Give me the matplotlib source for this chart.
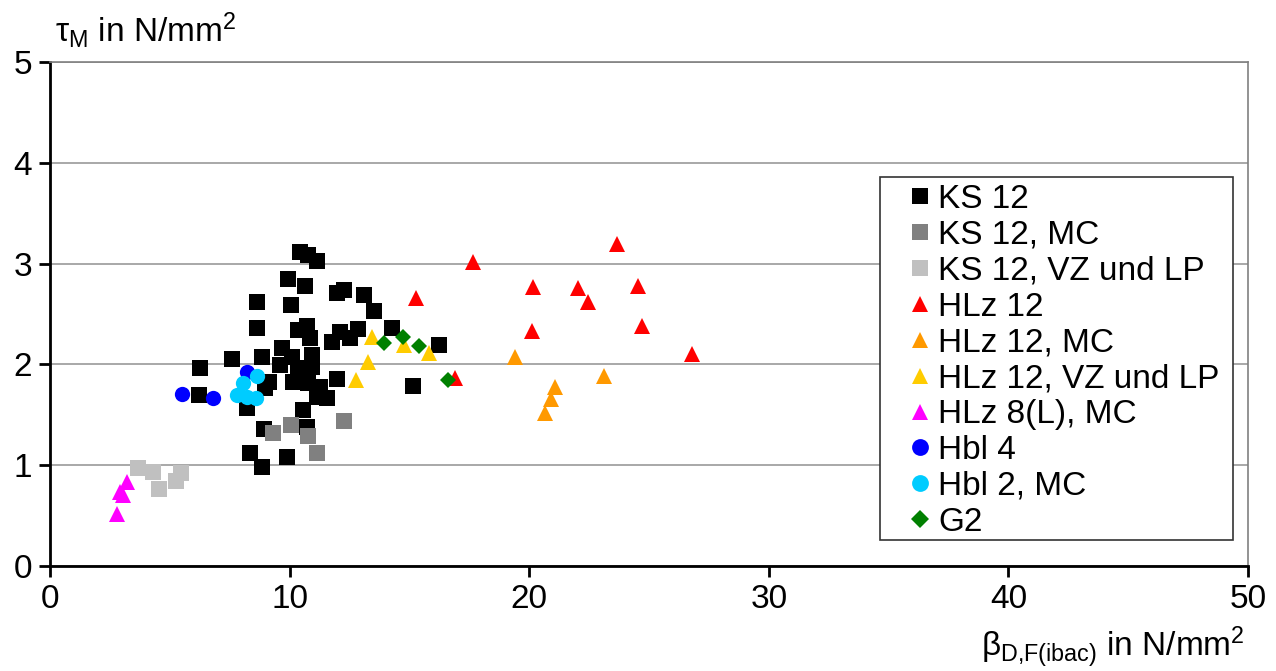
import matplotlib.pyplot as plt
from matplotlib.patches import Rectangle

plt.rcParams["font.family"] = ["Liberation Sans", "DejaVu Sans"]
plt.rcParams["mathtext.fontset"] = "custom"
plt.rcParams["mathtext.rm"] = "Liberation Sans"
plt.rcParams["mathtext.it"] = "Liberation Sans"

# KS 12
ks12_x = [6.26, 6.22, 7.60, 8.64, 8.64, 8.85, 8.22, 8.35, 8.93, 8.85, 8.97, 9.14,
          9.93, 10.06, 9.68, 9.89, 9.60, 10.10, 10.43, 10.77, 11.14, 10.64, 10.35,
          10.73, 10.85, 10.94, 10.35, 10.94, 10.14, 10.77, 11.27, 11.14, 11.56,
          10.56, 10.73, 11.77, 12.10, 11.98, 12.27, 12.52, 12.85, 11.98, 13.11,
          13.52, 14.27, 15.15, 16.24]
ks12_y = [1.96, 1.70, 2.05, 2.62, 2.36, 2.07, 1.57, 1.12, 1.36, 0.98, 1.77, 1.83,
          2.85, 2.59, 2.16, 1.08, 1.99, 2.07, 3.12, 3.09, 3.03, 2.78, 2.34,
          2.38, 2.26, 2.09, 1.96, 1.97, 1.83, 1.82, 1.78, 1.68, 1.67,
          1.55, 1.38, 2.22, 2.32, 2.71, 2.74, 2.26, 2.35, 1.86, 2.69,
          2.53, 2.36, 1.79, 2.19]

ks12mc_x = [9.31, 10.06, 10.77, 12.27, 11.14]
ks12mc_y = [1.32, 1.40, 1.29, 1.44, 1.12]

ks12vz_x = [3.67, 4.30, 4.55, 5.26, 5.47]
ks12vz_y = [0.97, 0.93, 0.76, 0.84, 0.92]

hlz12_x = [15.28, 17.65, 20.16, 20.12, 23.66, 22.04, 22.45, 24.54, 24.71, 26.79, 16.90]
hlz12_y = [2.66, 3.02, 2.77, 2.33, 3.19, 2.76, 2.62, 2.78, 2.38, 2.10, 1.87]

hlz12mc_x = [19.41, 23.12, 21.08, 20.91, 20.66]
hlz12mc_y = [2.07, 1.88, 1.78, 1.66, 1.52]

hlz12vz_x = [13.44, 13.27, 12.77, 14.77, 15.82]
hlz12vz_y = [2.27, 2.02, 1.85, 2.19, 2.11]

hlz8_x = [3.21, 2.92, 3.05, 2.80]
hlz8_y = [0.83, 0.73, 0.70, 0.52]

hbl4_x = [5.51, 6.80, 8.22]
hbl4_y = [1.71, 1.67, 1.92]

hbl2_x = [8.06, 8.64, 7.80, 8.22, 8.60]
hbl2_y = [1.82, 1.88, 1.70, 1.68, 1.67]

g2_x = [13.94, 14.73, 15.40, 16.61]
g2_y = [2.21, 2.27, 2.18, 1.85]

series = [
    ("KS 12", ks12_x, ks12_y, "s", "#000000", 11),
    ("KS 12, MC", ks12mc_x, ks12mc_y, "s", "#808080", 11),
    ("KS 12, VZ und LP", ks12vz_x, ks12vz_y, "s", "#C0C0C0", 11),
    ("HLz 12", hlz12_x, hlz12_y, "^", "#FF0000", 11),
    ("HLz 12, MC", hlz12mc_x, hlz12mc_y, "^", "#FF9900", 11),
    ("HLz 12, VZ und LP", hlz12vz_x, hlz12vz_y, "^", "#FFCC00", 11),
    ("HLz 8(L), MC", hlz8_x, hlz8_y, "^", "#FF00FF", 11),
    ("Hbl 4", hbl4_x, hbl4_y, "o", "#0000FF", 11),
    ("Hbl 2, MC", hbl2_x, hbl2_y, "o", "#00CCFF", 11),
    ("G2", g2_x, g2_y, "D", "#008000", 8),
]

fig = plt.figure(figsize=(12.76, 6.71), dpi=100)
ax = fig.add_axes([50 / 1276, 1 - 566 / 671, 1198 / 1276, 504 / 671])

for label, xs, ys, mk, col, ms in series:
    ax.plot(xs, ys, linestyle="none", marker=mk, color=col, markersize=ms,
            markeredgewidth=0, label=label, clip_on=False)

ax.set_xlim(0, 50)
ax.set_ylim(0, 5)
ax.set_xticks(range(0, 51, 10))
ax.set_yticks(range(0, 6))
ax.yaxis.grid(True, color="#999999", linewidth=1.2)
ax.set_axisbelow(True)

for side in ["top", "right"]:
    ax.spines[side].set_color("#808080")
    ax.spines[side].set_linewidth(1.2)
for side in ["left", "bottom"]:
    ax.spines[side].set_color("black")
    ax.spines[side].set_linewidth(2)

ax.tick_params(direction="out", length=8, width=2, labelsize=24, pad=5)

fig.text(55 / 1276, 1 - 42 / 671, r"$\tau_\mathregular{M}$ in N/mm$^2$", fontsize=24,
         va="baseline", ha="left")
fig.text(1245 / 1276, 1 - 657 / 671, r"$\beta_\mathregular{D{,}F(ibac)}$ in N/mm$^2$",
         fontsize=24, va="baseline", ha="right")

# legend box drawn separately, entries placed inside it
box = Rectangle((0.6928, 0.0516), 0.2947, 0.7202, transform=ax.transAxes,
                facecolor="white", edgecolor="#333333", linewidth=1.2, zorder=4)
ax.add_patch(box)
leg = ax.legend(loc="upper left", bbox_to_anchor=(0.7137, 0.758), fontsize=24,
                frameon=False, handlelength=0.9, handletextpad=0.1,
                labelspacing=0.146, borderpad=0, borderaxespad=0, markerscale=1.1)
leg.set_zorder(5)

fig.savefig("out.png", dpi=100)
